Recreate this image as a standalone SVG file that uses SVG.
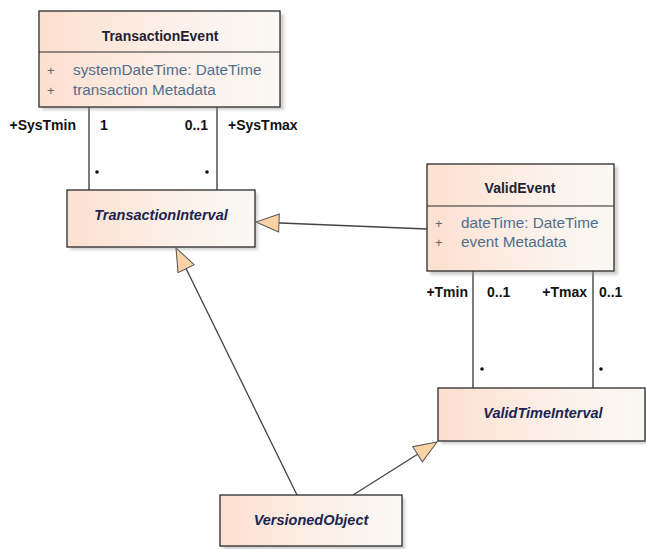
<svg xmlns="http://www.w3.org/2000/svg" width="646" height="549" viewBox="0 0 646 549">
<defs>
<linearGradient id="fill" x1="0" y1="0" x2="1" y2="0">
<stop offset="0" stop-color="#fcdfcf"/>
<stop offset="0.6" stop-color="#fcf1ea"/>
<stop offset="1" stop-color="#faf8f4"/>
</linearGradient>
<filter id="sh" x="-10%" y="-10%" width="130%" height="140%">
<feGaussianBlur stdDeviation="1.5"/>
</filter>
<marker id="gen" markerWidth="26" markerHeight="20" refX="24" refY="10" orient="auto" markerUnits="userSpaceOnUse">
<path d="M24,10 L1,1 L1,19 Z" fill="#fdd3a6" stroke="#555" stroke-width="1"/>
</marker>
</defs>
<style>
.box{fill:url(#fill);stroke:#2b2b2b;stroke-width:1.3}
.shadow{fill:#9a9a9a;opacity:0.45;filter:url(#sh)}
.title{font-family:"Liberation Sans",Arial,sans-serif;font-weight:bold;font-size:14px;fill:#1e2233;text-anchor:middle}
.ititle{font-family:"Liberation Sans",Arial,sans-serif;font-weight:bold;font-style:italic;font-size:14.5px;fill:#1a2550;text-anchor:middle}
.attr{font-family:"Liberation Sans",Arial,sans-serif;font-size:15.3px;fill:#4f6f8f}
.plus{font-family:"Liberation Sans",Arial,sans-serif;font-size:13px;fill:#666}
.lbl{font-family:"Liberation Sans",Arial,sans-serif;font-weight:bold;font-size:14px;fill:#111}
.conn{stroke:#222;stroke-width:1.2;fill:none}
.genl{stroke:#444;stroke-width:1.3;fill:none}
.dot{fill:#111}
</style>

<g id="connectors">
<line class="conn" x1="89" y1="107" x2="89" y2="190"/>
<line class="conn" x1="217" y1="107" x2="217" y2="190"/>
<circle class="dot" cx="97" cy="172" r="1.8"/>
<circle class="dot" cx="207" cy="172" r="1.8"/>
<text class="lbl" x="76" y="130" text-anchor="end">+SysTmin</text>
<text class="lbl" x="100" y="130">1</text>
<text class="lbl" x="208" y="130" text-anchor="end">0..1</text>
<text class="lbl" x="228" y="130">+SysTmax</text>

<line class="conn" x1="473" y1="271" x2="473" y2="388"/>
<line class="conn" x1="593" y1="271" x2="593" y2="388"/>
<circle class="dot" cx="482" cy="369" r="1.8"/>
<circle class="dot" cx="601" cy="369" r="1.8"/>
<text class="lbl" x="468" y="297" text-anchor="end">+Tmin</text>
<text class="lbl" x="487" y="297">0..1</text>
<text class="lbl" x="587" y="297" text-anchor="end">+Tmax</text>
<text class="lbl" x="599" y="297">0..1</text>

<line class="genl" x1="427" y1="229" x2="256" y2="222" marker-end="url(#gen)"/>
<line class="genl" x1="297" y1="495" x2="176" y2="248" marker-end="url(#gen)"/>
<line class="genl" x1="353" y1="495" x2="437" y2="442" marker-end="url(#gen)"/>
</g>

<g id="TransactionEvent">
<rect class="shadow" x="42" y="14" width="242" height="96"/>
<rect class="box" x="39" y="11" width="241" height="96"/>
<line x1="39" y1="52" x2="280" y2="52" stroke="#2b2b2b" stroke-width="1.2"/>
<text class="title" x="160" y="41">TransactionEvent</text>
<text class="plus" x="47" y="75">+</text>
<text class="attr" x="73" y="75">systemDateTime: DateTime</text>
<text class="plus" x="47" y="95">+</text>
<text class="attr" x="73" y="95">transaction Metadata</text>
</g>

<g id="TransactionInterval">
<rect class="shadow" x="70" y="193" width="188" height="57"/>
<rect class="box" x="67" y="190" width="188" height="57"/>
<text class="ititle" x="161" y="220">TransactionInterval</text>
</g>

<g id="ValidEvent">
<rect class="shadow" x="430" y="167" width="188" height="108"/>
<rect class="box" x="427" y="164" width="187" height="107"/>
<line x1="427" y1="206" x2="614" y2="206" stroke="#2b2b2b" stroke-width="1.2"/>
<text class="title" x="520" y="193">ValidEvent</text>
<text class="plus" x="435" y="228">+</text>
<text class="attr" x="461" y="228">dateTime: DateTime</text>
<text class="plus" x="435" y="247">+</text>
<text class="attr" x="461" y="247">event Metadata</text>
</g>

<g id="ValidTimeInterval">
<rect class="shadow" x="441" y="391" width="208" height="53"/>
<rect class="box" x="438" y="388" width="207" height="53"/>
<text class="ititle" x="543" y="418">ValidTimeInterval</text>
</g>

<g id="VersionedObject">
<rect class="shadow" x="223" y="498" width="182" height="52"/>
<rect class="box" x="220" y="495" width="182" height="51"/>
<text class="ititle" x="311" y="525">VersionedObject</text>
</g>
</svg>
